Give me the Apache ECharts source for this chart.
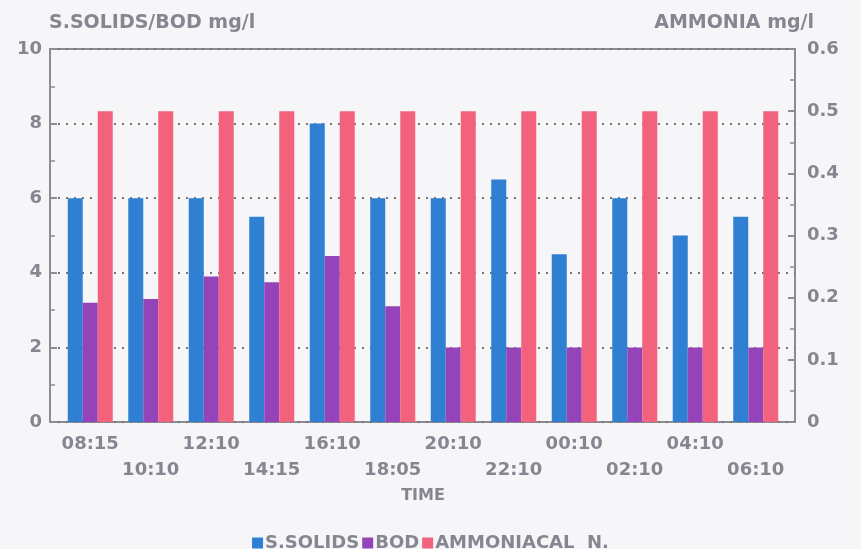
<!DOCTYPE html>
<html>
<head>
<meta charset="utf-8">
<script src="https://cdn.jsdelivr.net/npm/echarts@6/dist/echarts.min.js"></script>
<style>html,body{margin:0;padding:0;background:#f6f6f8;}#c{width:861px;height:549px;}</style>
</head>
<body>
<div id="c"></div>
<script>
var times = ['08:15','10:10','12:10','14:15','16:10','18:05','20:10','22:10','00:10','02:10','04:10','06:10'];
var ssolids = [6, 6, 6, 5.5, 8, 6, 6, 6.5, 4.5, 6, 5, 5.5];
var bod = [3.2, 3.3, 3.9, 3.75, 4.45, 3.1, 2, 2, 2, 2, 2, 2];
var ammonia = [0.5, 0.5, 0.5, 0.5, 0.5, 0.5, 0.5, 0.5, 0.5, 0.5, 0.5, 0.5];
var leftTicks = [0, 2, 4, 6, 8, 10];
var rightTicks = [0, 0.1, 0.2, 0.3, 0.4, 0.5, 0.6];

var txt = '#868691';
var font = 'DejaVu Sans';
var chart = echarts.init(document.getElementById('c'));
chart.setOption({
  backgroundColor: '#f6f6f8',
  animation: false,
  textStyle: {fontFamily: font, color: txt},
  title: [
    {text: 'S.SOLIDS/BOD mg/l', left: 44, top: 9, textStyle: {fontFamily: font, fontSize: 19, fontWeight: 'bold', color: txt}},
    {text: 'AMMONIA mg/l', right: 42, top: 9, textStyle: {fontFamily: font, fontSize: 19, fontWeight: 'bold', color: txt}}
  ],
  legend: {
    top: 529, left: 'center', itemGap: 3, itemWidth: 11, itemHeight: 11, icon: 'rect',
    textStyle: {fontFamily: font, fontSize: 18, fontWeight: 'bold', color: txt, padding: [0, 0, 0, -3]},
    data: ['S.SOLIDS', 'BOD', 'AMMONIACAL  N.']
  },
  grid: [
    {left: 50, right: 66, top: 49, bottom: 127, show: true, borderColor: '#8c8c96', borderWidth: 2, backgroundColor: 'transparent'},
    {left: 60, right: 75, top: 49, bottom: 127}
  ],
  xAxis: [
    {gridIndex: 0, type: 'value', min: 0, max: 1, show: false},
    {gridIndex: 1, type: 'category', data: times, boundaryGap: true,
      axisLine: {show: false}, axisTick: {show: false},
      name: 'TIME', nameLocation: 'middle', nameGap: 64,
      nameTextStyle: {fontFamily: font, fontSize: 16, fontWeight: 'bold', color: txt},
      axisLabel: {
        interval: 0, margin: 9, fontFamily: font, fontSize: 18, fontWeight: 'bold', color: txt, lineHeight: 26,
        formatter: function (v, i) { return i % 2 ? '\n' + v : v; }
      }
    }
  ],
  yAxis: [
    {gridIndex: 0, type: 'value', min: 0, max: 10, interval: 2, position: 'left',
      axisLine: {show: false},
      axisTick: {show: true, inside: true, length: 7, lineStyle: {color: '#8c8c96', width: 2}},
      minorTick: {show: true, splitNumber: 2, length: 5, lineStyle: {color: '#8c8c96', width: 1.5}},
      axisLabel: {margin: 8, fontFamily: font, fontSize: 18, fontWeight: 'bold', color: txt},
      splitLine: {show: true, lineStyle: {type: [2, 6], color: '#7d7670', width: 2}}
    },
    {gridIndex: 0, type: 'value', min: 0, max: 0.6, interval: 0.1, position: 'right',
      axisLine: {show: false},
      axisTick: {show: true, inside: true, length: 7, lineStyle: {color: '#8c8c96', width: 2}},
      minorTick: {show: true, splitNumber: 2, length: 5, lineStyle: {color: '#8c8c96', width: 1.5}},
      axisLabel: {margin: 12, fontFamily: font, fontSize: 18, fontWeight: 'bold', color: txt,
        formatter: function (v) { return v === 0 ? '0' : v.toFixed(1); }},
      splitLine: {show: false}
    },
    {gridIndex: 1, type: 'value', min: 0, max: 10, interval: 2, show: false},
    {gridIndex: 1, type: 'value', min: 0, max: 0.6, interval: 0.1, show: false}
  ],
  series: [
    {name: 'S.SOLIDS', type: 'bar', xAxisIndex: 1, yAxisIndex: 2, data: ssolids, barWidth: 15, barGap: '0%', itemStyle: {color: '#2f7fd2'}},
    {name: 'BOD', type: 'bar', xAxisIndex: 1, yAxisIndex: 2, data: bod, barWidth: 15, barGap: '0%', itemStyle: {color: '#9444b8'}},
    {name: 'AMMONIACAL  N.', type: 'bar', xAxisIndex: 1, yAxisIndex: 3, data: ammonia, barWidth: 15, barGap: '0%', itemStyle: {color: '#f2627c'}}
  ]
});
</script>
</body>
</html>
